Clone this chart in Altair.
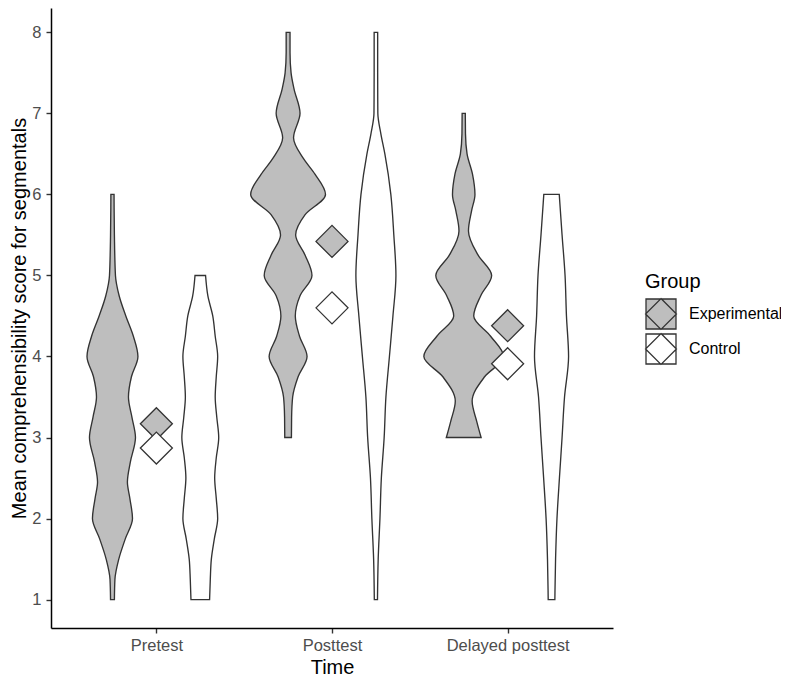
import json
import altair as alt
import pandas as pd

times = ["Pretest", "Posttest", "Delayed posttest"]
groups = ["Experimental", "Control"]

mean_experimental = [3.17, 5.42, 4.38]
mean_control = [2.87, 4.60, 3.91]

# Violin outlines: score levels and half-widths
# (half-width in % of the spacing between two time points)
pre_exp_score = [1.0, 1.25, 1.5, 1.75, 2.0, 2.25, 2.45, 2.7, 3.0, 3.25, 3.5, 3.75, 4.0, 4.25, 4.5, 4.75, 5.0, 5.5, 6.0]
pre_exp_width = [1.1, 1.4, 3.6, 7.3, 11.4, 9.9, 8.5, 10.2, 13.1, 11.1, 9.1, 10.8, 14.5, 11.9, 7.6, 3.8, 1.7, 1.1, 0.9]
pre_ctl_score = [1.0, 1.25, 1.5, 1.75, 2.0, 2.25, 2.5, 2.75, 3.0, 3.25, 3.5, 3.75, 4.0, 4.25, 4.5, 4.75, 5.0]
pre_ctl_width = [5.3, 5.7, 6.3, 8.0, 9.9, 9.1, 8.2, 9.1, 10.5, 9.4, 8.5, 9.1, 9.9, 8.5, 7.1, 4.3, 3.0]
post_exp_score = [3.0, 3.25, 3.5, 3.75, 4.0, 4.25, 4.5, 4.75, 5.0, 5.25, 5.5, 5.75, 6.0, 6.25, 6.45, 6.7, 7.0, 7.3, 7.5, 7.75, 8.0]
post_exp_width = [1.9, 2.0, 2.6, 5.7, 10.8, 6.5, 4.1, 6.8, 13.6, 9.7, 4.3, 9.7, 21.3, 15.3, 8.5, 3.1, 6.8, 3.4, 1.7, 1.1, 1.1]
post_ctl_score = [1.0, 1.5, 2.0, 2.5, 3.0, 3.5, 4.0, 4.5, 5.0, 5.5, 6.0, 6.5, 6.75, 7.0, 7.5, 8.0]
post_ctl_width = [0.9, 1.3, 2.3, 3.1, 4.7, 5.7, 7.7, 9.7, 11.4, 10.2, 8.5, 5.1, 2.8, 1.1, 1.0, 1.0]
del_exp_score = [3.0, 3.2, 3.45, 3.75, 4.0, 4.25, 4.5, 4.75, 5.0, 5.25, 5.55, 5.8, 6.0, 6.25, 6.5, 6.75, 7.0]
del_exp_width = [9.9, 7.4, 4.8, 11.9, 22.7, 15.3, 5.7, 9.7, 15.9, 8.2, 2.7, 4.5, 6.4, 5.0, 1.9, 1.0, 0.9]
del_ctl_score = [1.0, 1.5, 2.0, 2.5, 3.0, 3.5, 4.0, 4.5, 5.0, 5.5, 6.0]
del_ctl_width = [1.9, 2.3, 3.1, 4.5, 6.0, 7.4, 9.7, 8.5, 7.7, 6.0, 4.4]

violin_specs = [
    (0, "Experimental", pre_exp_score, pre_exp_width),
    (0, "Control", pre_ctl_score, pre_ctl_width),
    (1, "Experimental", post_exp_score, post_exp_width),
    (1, "Control", post_ctl_score, post_ctl_width),
    (2, "Experimental", del_exp_score, del_exp_width),
    (2, "Control", del_ctl_score, del_ctl_width),
]

DODGE = 0.25
rows = []
for k, (ti, grp, scores, widths) in enumerate(violin_specs):
    centre = ti + 1 + (-DODGE if grp == "Experimental" else DODGE)
    for s, w in zip(scores, widths):
        rows.append({"violin": k, "group": grp, "score": s,
                     "left": centre - w / 100.0, "right": centre + w / 100.0})
df_v = pd.DataFrame(rows)

mrows = []
for ti in range(3):
    mrows.append({"pos": ti + 1, "group": "Experimental", "mean": mean_experimental[ti]})
    mrows.append({"pos": ti + 1, "group": "Control", "mean": mean_control[ti]})
df_m = pd.DataFrame(mrows)

FONT = "Liberation Sans"
OUTLINE = "#333333"
fill_scale = alt.Scale(domain=groups, range=["#BEBEBE", "#FFFFFF"])
legend = alt.Legend(
    title="Group", orient="none", legendX=594, legendY=264,
    symbolType="M-1,-1H1V1H-1Z M0,-1.03L1.03,0L0,1.03L-1.03,0Z",
    symbolSize=900, symbolStrokeColor=OUTLINE, symbolStrokeWidth=1.3,
    symbolOpacity=1, titleFontSize=20, titleFontWeight="normal", titleColor="black",
    titleFont=FONT, labelFont=FONT, labelFontSize=16, labelColor="black",
    labelOffset=12, titlePadding=6, rowPadding=-3,
)

xscale = alt.Scale(domain=[0.4, 3.6], nice=False, zero=False)
yscale = alt.Scale(domain=[0.65, 8.3], nice=False, zero=False)
label_expr = json.dumps(times) + "[datum.value - 1]"

axis_common = dict(grid=False, domainColor="black", domainWidth=1.5, tickColor=OUTLINE,
                   tickWidth=1.4, tickSize=5, labelColor="#4D4D4D", labelFontSize=16.5,
                   labelFont=FONT, titleFont=FONT, titleFontSize=20, titleFontWeight="normal",
                   titleColor="black")

x_axis = alt.Axis(title="Time", values=[1, 2, 3], labelExpr=label_expr, labelPadding=4,
                  titlePadding=4, **axis_common)
y_axis = alt.Axis(title="Mean comprehensibility score for segmentals", values=list(range(1, 9)),
                  labelPadding=5, titlePadding=2, **axis_common)

violins = alt.Chart(df_v).mark_area(
    orient="horizontal", interpolate="monotone", stroke=OUTLINE, strokeWidth=1.35
).encode(
    y=alt.Y("score:Q", scale=yscale, axis=y_axis),
    x=alt.X("left:Q", scale=xscale, axis=x_axis),
    x2="right:Q",
    fill=alt.Fill("group:N", scale=fill_scale, legend=legend),
    detail="violin:N",
)

points = alt.Chart(df_m).mark_point(
    shape="diamond", filled=True, size=1024, stroke=OUTLINE, strokeWidth=1.3, opacity=1
).encode(
    x=alt.X("pos:Q", scale=xscale, axis=x_axis),
    y=alt.Y("mean:Q", scale=yscale, axis=y_axis),
    fill=alt.Fill("group:N", scale=fill_scale, legend=legend),
)

chart = alt.layer(violins, points).properties(
    width=562, height=620,
    autosize=alt.AutoSizeParams(type="none"),
    padding={"left": 43, "top": 0, "right": 168, "bottom": 50},
).configure(
    font=FONT,
    view=alt.ViewConfig(stroke="transparent", strokeWidth=0),
    style={"cell": {"stroke": "transparent", "strokeWidth": 0}},
)

chart.save("out.html", embed_options={"renderer": "svg", "actions": False})
